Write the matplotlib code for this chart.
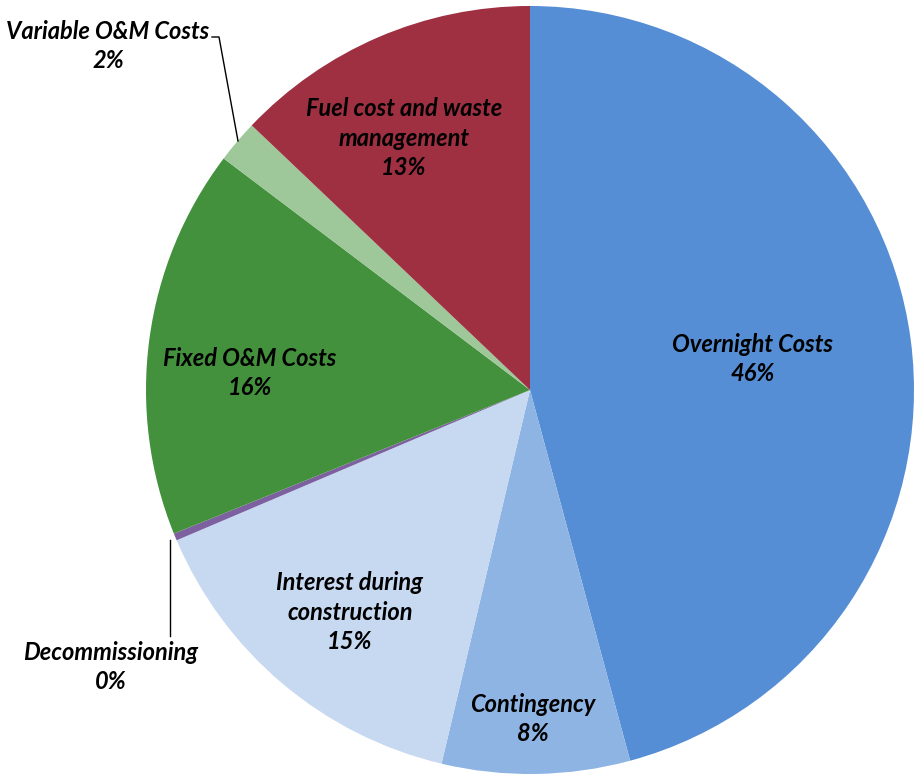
import matplotlib
matplotlib.use("Agg")
import matplotlib.pyplot as plt

# cost breakdown (% of levelised cost)
labels = ["Overnight Costs", "Contingency", "Interest during\nconstruction",
          "Decommissioning", "Fixed O&M Costs", "Variable O&M Costs",
          "Fuel cost and waste\nmanagement"]
shares = [45.8, 7.9, 14.9, 0.3, 16.4, 1.8, 12.9]
colors = ["#558ED5", "#8EB4E3", "#C6D9F1", "#7D60A0", "#43913D", "#9EC79A", "#9E3041"]

W, H = 914, 783
fig = plt.figure(figsize=(W / 100, H / 100), dpi=100)
ax = fig.add_axes([0, 0, 1, 1])

ax.pie(shares, colors=colors, startangle=90, counterclock=False,
       center=(530, H - 390), radius=384,
       wedgeprops=dict(linewidth=0))

# pie() resets the limits, so fix them afterwards
ax.set_xlim(0, W)
ax.set_ylim(0, H)
ax.set_aspect("equal")
ax.axis("off")

font = dict(family="Lato", weight="bold", style="italic", size=17,
            ha="center", va="center", linespacing=1.33)

# label anchor points (image pixels from top-left)
label_xy = [(753, 359), (533, 719), (350, 612), (111, 667),
            (250, 373), (108, 46), (404, 138)]
for lab, val, (x, y) in zip(labels, shares, label_xy):
    ax.text(x, H - y, f"{lab}\n{val:.0f}%", **font)

# leader lines for the two small slices
ax.plot([170, 170], [H - 540, H - 636], color="black", lw=1)
ax.plot([212, 219, 238], [H - 37, H - 37, H - 141], color="black", lw=1)

fig.savefig("out.png", dpi=100)
